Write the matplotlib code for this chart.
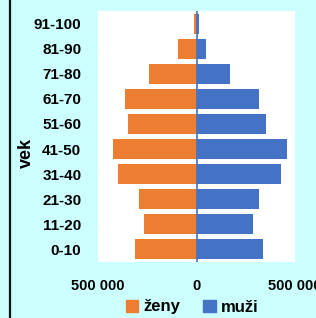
import matplotlib
matplotlib.use('Agg')
import matplotlib.pyplot as plt
from matplotlib.patches import Patch
from matplotlib.lines import Line2D

# vekové skupiny a počty obyvateľov
vek = ['0-10', '11-20', '21-30', '31-40', '41-50', '51-60', '61-70', '71-80', '81-90', '91-100']
zeny = [310000, 266000, 293000, 397000, 423000, 348000, 361000, 242000, 96000, 12000]
muzi = [337000, 286000, 317000, 429000, 457000, 354000, 318000, 170000, 49000, 12000]
xticks = [-500000, 0, 500000]
xtick_labels = ['500 000', '0', '500 000']

ORANGE = '#ED7D31'
BLUE = '#4472C4'
BG = '#CCFFFF'

plt.rcParams['font.family'] = ['Liberation Sans', 'DejaVu Sans']

fig = plt.figure(figsize=(3.16, 3.18), dpi=100)
fig.patch.set_facecolor(BG)
W, H = 316, 318
ax = fig.add_axes([98 / W, (H - 262) / H, 197 / W, 251 / H])
ax.set_facecolor('white')

y = range(len(vek))
ax.barh(y, [-v for v in zeny], height=0.8, color=ORANGE)
ax.barh(y, muzi, height=0.8, color=BLUE)
ax.axvline(0, color=BLUE, lw=1.2)

ax.set_xlim(-500000, 500000)
ax.set_ylim(-0.5, len(vek) - 0.5)
ax.set_yticks(list(y))
ax.set_yticklabels(vek, fontsize=11, fontweight='bold')
ax.set_xticks(xticks)
ax.set_xticklabels(xtick_labels, fontsize=10.5, fontweight='bold')
ax.tick_params(length=0, pad=12, axis='x')
ax.tick_params(length=0, pad=12, axis='y')
for s in ax.spines.values():
    s.set_visible(False)

fig.text(26 / W, 0.5 + 0.02, 'vek', rotation=90, fontsize=13, fontweight='bold',
         ha='center', va='center')

# ľavý čierny okraj
fig.add_artist(Line2D([9.5 / W, 9.5 / W], [0, 1], color='#111111', lw=1.6,
                      transform=fig.transFigure))

handles = [Patch(color=ORANGE, label='ženy'), Patch(color=BLUE, label='muži')]
fig.legend(handles=handles, loc='center', bbox_to_anchor=(192 / W, 1 - 307 / H),
           ncol=2, frameon=False, prop={'size': 12, 'weight': 'bold'},
           handlelength=0.75, handleheight=0.75, handletextpad=0.3, columnspacing=1.4)

fig.savefig('out.png', dpi=100, facecolor=BG)
